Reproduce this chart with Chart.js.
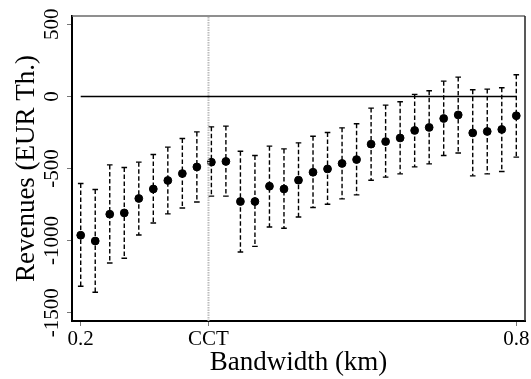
<!DOCTYPE html>
<html>
<head>
<meta charset="utf-8">
<script src="https://cdn.jsdelivr.net/npm/chart.js@4/dist/chart.umd.min.js"></script>
<style>
  body { margin: 0; background: #fff; }
  canvas { display: block; }
</style>
</head>
<body>
<canvas id="rdChart" width="531" height="379"></canvas>
<script>
// bandwidths (km) and RD estimates with 95% CI (EUR thousand)
const bandwidths = [0.20, 0.22, 0.24, 0.26, 0.28, 0.30, 0.32, 0.34, 0.36, 0.38, 0.40,
                    0.42, 0.44, 0.46, 0.48, 0.50, 0.52, 0.54, 0.56, 0.58, 0.60,
                    0.62, 0.64, 0.66, 0.68, 0.70, 0.72, 0.74, 0.76, 0.78, 0.80];
const estimates = [-963, -1003, -817, -808, -708, -642, -583, -535, -489, -456, -451,
                   -729, -729, -623, -642, -581, -526, -503, -465, -438, -331,
                   -313, -288, -236, -215, -153, -128, -253, -243, -229, -134];
const ciUpper = [-604, -646, -475, -493, -456, -403, -352, -292, -246, -211, -206,
                 -380, -410, -345, -364, -322, -276, -250, -218, -190, -81,
                 -60, -37, 14, 39, 106, 134, 46, 51, 60, 150];
const ciLower = [-1317, -1359, -1156, -1123, -961, -878, -815, -774, -732, -692, -692,
                 -1079, -1040, -906, -915, -836, -771, -748, -711, -683, -581,
                 -560, -537, -489, -468, -410, -392, -551, -537, -521, -421];
const cctBandwidth = 0.376;
const xTickValues = [0.2, cctBandwidth, 0.8];
const xTickLabels = ['0.2', 'CCT', '0.8'];
const yTickValues = [-1500, -1000, -500, 0, 500];
const yMin = -1558, yMax = 558;

const serif = "'Liberation Serif', 'Times New Roman', serif";

const errorBars = {
  id: 'errorBars',
  beforeDatasetsDraw(chart) {
    const {ctx, scales: {x, y}} = chart;
    ctx.save();
    ctx.strokeStyle = '#000';
    ctx.lineWidth = 1.4;
    bandwidths.forEach((b, i) => {
      const px = x.getPixelForValue(b);
      const top = y.getPixelForValue(ciUpper[i]);
      const bot = y.getPixelForValue(ciLower[i]);
      ctx.setLineDash([4.5, 2.5]);
      ctx.beginPath();
      ctx.moveTo(px, top);
      ctx.lineTo(px, bot);
      ctx.stroke();
      ctx.setLineDash([]);
      ctx.beginPath();
      ctx.moveTo(px - 2.8, top); ctx.lineTo(px + 2.8, top);
      ctx.moveTo(px - 2.8, bot); ctx.lineTo(px + 2.8, bot);
      ctx.stroke();
    });
    ctx.restore();
  },
  afterDraw(chart) {
    const {ctx, chartArea: a, scales: {y}} = chart;
    ctx.save();
    // outer frame (top and right)
    ctx.lineWidth = 1.5;
    ctx.strokeStyle = '#6a6a6a';
    ctx.beginPath();
    ctx.moveTo(a.left, a.top); ctx.lineTo(a.right, a.top);
    ctx.stroke();
    ctx.strokeStyle = '#222';
    ctx.beginPath();
    ctx.moveTo(a.right, a.top); ctx.lineTo(a.right, a.bottom);
    ctx.stroke();
    // rotated y tick labels
    ctx.fillStyle = '#000';
    ctx.font = '21px ' + serif;
    ctx.textAlign = 'center';
    ctx.textBaseline = 'alphabetic';
    yTickValues.forEach(v => {
      ctx.save();
      ctx.translate(58, y.getPixelForValue(v));
      ctx.rotate(-Math.PI / 2);
      ctx.fillText(String(v), 0, 0);
      ctx.restore();
    });
    ctx.restore();
  }
};

new Chart(document.getElementById('rdChart'), {
  type: 'scatter',
  data: {
    datasets: [
      {
        type: 'line',
        data: [{x: bandwidths[0], y: 0}, {x: bandwidths[bandwidths.length - 1], y: 0}],
        borderColor: '#000',
        borderWidth: 1.5,
        pointRadius: 0
      },
      {
        type: 'line',
        data: [{x: cctBandwidth, y: yMin}, {x: cctBandwidth, y: yMax}],
        borderColor: '#bdbdbd',
        borderWidth: 2,
        borderDash: [1.5, 1],
        pointRadius: 0
      },
      {
        data: bandwidths.map((b, i) => ({x: b, y: estimates[i]})),
        backgroundColor: '#000',
        borderColor: '#000',
        pointRadius: 3.9,
        pointHoverRadius: 3.9
      }
    ]
  },
  options: {
    responsive: false,
    animation: false,
    events: [],
    layout: {padding: {top: 16, right: 6, left: 0, bottom: 0}},
    plugins: {legend: {display: false}, tooltip: {enabled: false}},
    scales: {
      x: {
        type: 'linear',
        min: 0.188,
        max: 0.812,
        afterBuildTicks: s => { s.ticks = xTickValues.map(v => ({value: v})); },
        afterFit: s => { s.height = 58; },
        ticks: {
          autoSkip: false,
          maxRotation: 0,
          padding: 1,
          color: '#000',
          font: {family: serif, size: 21},
          callback: v => xTickLabels[xTickValues.indexOf(v)]
        },
        grid: {drawOnChartArea: false, tickLength: 5, color: '#777', lineWidth: 1},
        border: {color: '#000', width: 2},
        title: {
          display: true,
          text: 'Bandwidth (km)',
          color: '#000',
          font: {family: serif, size: 27},
          padding: {top: 0, bottom: 0}
        }
      },
      y: {
        min: yMin,
        max: yMax,
        afterBuildTicks: s => { s.ticks = yTickValues.map(v => ({value: v})); },
        afterFit: s => { s.width = 72; },
        ticks: {display: false},
        grid: {drawOnChartArea: false, tickLength: 5, color: '#777', lineWidth: 1},
        border: {color: '#000', width: 2},
        title: {
          display: true,
          text: 'Revenues (EUR Th.)',
          color: '#000',
          font: {family: serif, size: 27},
          padding: {top: 11, bottom: 0}
        }
      }
    }
  },
  plugins: [errorBars]
});
</script>
</body>
</html>
